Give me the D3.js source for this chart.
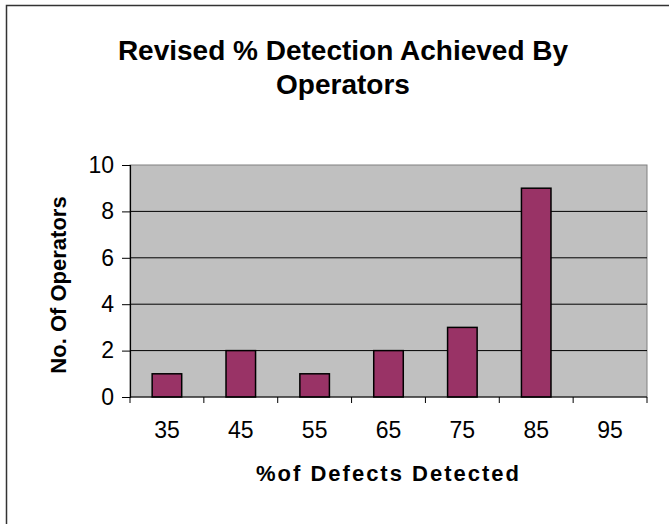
<!DOCTYPE html>
<html>
<head>
<meta charset="utf-8">
<script src="https://cdn.jsdelivr.net/npm/d3@7"></script>
<style>
  html, body { margin: 0; padding: 0; background: #fff; }
  svg { display: block; }
  text { font-family: "Liberation Sans", Arial, sans-serif; fill: #000; }
</style>
</head>
<body>
<svg id="chart" width="669" height="524"></svg>
<script>
const categories = ["35", "45", "55", "65", "75", "85", "95"];
const values = [1, 2, 1, 2, 3, 9, 0];
const yTicks = [0, 2, 4, 6, 8, 10];
const titleLines = ["Revised % Detection Achieved By", "Operators"];
const xTitle = "%of Defects Detected";
const yTitle = "No. Of Operators";

const svg = d3.select("#chart");
const plot = { left: 130, top: 165, right: 647, bottom: 397 };

// outer frame (right/bottom edges fall outside the picture)
svg.append("rect")
  .attr("x", 6.5).attr("y", 5.5)
  .attr("width", 700).attr("height", 600)
  .attr("fill", "#fff").attr("stroke", "#333").attr("stroke-width", 1.5);

const x = d3.scaleBand().domain(categories)
  .range([plot.left, plot.right]).paddingInner(0.6).paddingOuter(0.3);
const xEdge = d3.scaleBand().domain(categories)
  .range([plot.left, plot.right]).padding(0);
const y = d3.scaleLinear().domain([0, 10]).range([plot.bottom, plot.top]);

// plot area
svg.append("rect")
  .attr("x", plot.left).attr("y", plot.top)
  .attr("width", plot.right - plot.left).attr("height", plot.bottom - plot.top)
  .attr("fill", "#C0C0C0").attr("stroke", "#808080").attr("stroke-width", 1);

// gridlines
svg.append("g").selectAll("line")
  .data(yTicks.filter(d => d > 0 && d < 10))
  .join("line")
  .attr("x1", plot.left).attr("x2", plot.right)
  .attr("y1", d => y(d)).attr("y2", d => y(d))
  .attr("stroke", "#000").attr("stroke-width", 1);

// bars
svg.append("g").selectAll("rect")
  .data(categories.map((c, i) => ({ c, v: values[i] })).filter(d => d.v > 0))
  .join("rect")
  .attr("x", d => x(d.c))
  .attr("y", d => y(d.v))
  .attr("width", x.bandwidth())
  .attr("height", d => y(0) - y(d.v))
  .attr("fill", "#993366")
  .attr("stroke", "#000").attr("stroke-width", 1.5);

// y axis
const yAxis = d3.axisLeft(y).tickValues(yTicks).tickSize(8).tickPadding(8);
const gy = svg.append("g").attr("transform", `translate(${plot.left},0)`).call(yAxis);
gy.select(".domain").attr("stroke", "#000").attr("stroke-width", 1.2);
gy.selectAll(".tick line").attr("stroke", "#000");
gy.selectAll(".tick text")
  .attr("font-size", 23).attr("font-family", "Liberation Sans, Arial, sans-serif")
  .attr("fill", "#000");

// x axis line
svg.append("line")
  .attr("x1", plot.left).attr("x2", plot.right)
  .attr("y1", plot.bottom).attr("y2", plot.bottom)
  .attr("stroke", "#000").attr("stroke-width", 1.2);

// x ticks at band edges
const edges = categories.map(c => xEdge(c)).concat([xEdge(categories[categories.length - 1]) + xEdge.bandwidth()]);
svg.append("g").selectAll("line")
  .data(edges).join("line")
  .attr("x1", d => d).attr("x2", d => d)
  .attr("y1", plot.bottom).attr("y2", plot.bottom + 6)
  .attr("stroke", "#000");

// x tick labels
svg.append("g").selectAll("text")
  .data(categories).join("text")
  .attr("x", d => x(d) + x.bandwidth() / 2)
  .attr("y", 438)
  .attr("text-anchor", "middle")
  .attr("font-size", 23)
  .text(d => d);

// title
svg.append("g").selectAll("text")
  .data(titleLines).join("text")
  .attr("x", 343)
  .attr("y", (d, i) => 60 + i * 34)
  .attr("text-anchor", "middle")
  .attr("font-size", 28)
  .attr("font-weight", "bold")
  .text(d => d);

// x axis title
svg.append("text")
  .attr("x", (plot.left + plot.right) / 2)
  .attr("y", 481)
  .attr("text-anchor", "middle")
  .attr("font-size", 22)
  .attr("font-weight", "bold")
  .attr("letter-spacing", 2)
  .text(xTitle);

// y axis title
svg.append("text")
  .attr("transform", `translate(66,285) rotate(-90)`)
  .attr("text-anchor", "middle")
  .attr("font-size", 22)
  .attr("font-weight", "bold")
  .text(yTitle);
</script>
</body>
</html>
